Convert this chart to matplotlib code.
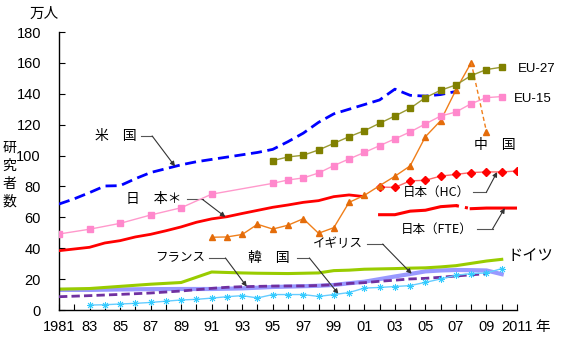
import matplotlib.pyplot as plt
import numpy as np

plt.rcParams['font.family'] = ['Noto Sans CJK JP', 'DejaVu Sans']

# ================== DATA (万人) ==================
us_years = list(range(1981, 2008))
us_vals = [68.6, 72.0, 76.0, 80.3, 80.5, 85.0, 89.0, 91.5, 94.0, 96.0, 97.5, 99.0,
           100.5, 102.0, 104.0, 109.0, 114.5, 121.5, 127.0, 130.0, 133.0, 136.0,
           143.0, 139.0, 138.5, 139.5, 141.5]

eu15_years = [1981, 1983, 1985, 1987, 1989, 1991] + list(range(1995, 2011))
eu15_vals = [49.2, 52.3, 56.1, 61.5, 66.2, 75.0, 82.0, 84.2, 85.5, 88.7, 93.5, 97.8,
             102.0, 106.4, 110.8, 115.3, 120.5, 125.6, 128.2, 133.6, 137.5, 138.2]

eu27_years = list(range(1995, 2011))
eu27_vals = [96.7, 99.1, 100.2, 103.6, 107.9, 112.2, 116.1, 120.9, 125.6, 130.6,
             137.5, 142.3, 145.7, 151.8, 155.7, 157.2]

china_years = list(range(1991, 2010))
china_vals = [47.1, 47.3, 48.9, 55.5, 52.4, 54.9, 59.1, 49.7, 53.3, 69.7, 74.2, 80.5,
              86.6, 93.3, 112.2, 122.6, 142.5, 160.2, 115.5]

jp_years = list(range(1981, 2002))
jp_vals = [38.4, 39.5, 40.6, 43.4, 44.9, 47.3, 49.0, 51.3, 53.8, 56.8, 59.0, 60.4,
           62.5, 64.5, 66.5, 68.0, 69.7, 70.8, 73.4, 74.5, 73.4]

jp_hc_years = list(range(2002, 2012))
jp_hc_vals = [79.6, 79.4, 83.6, 84.0, 86.7, 87.8, 89.0, 89.4, 89.4, 90.0]

jp_fte_years = list(range(2002, 2012))
jp_fte_vals = [61.7, 61.7, 64.0, 64.6, 66.9, 67.6, 65.6, 66.0, 66.0, 66.0]

de_years = [1981, 1983, 1985, 1987, 1989] + list(range(1991, 2011))
de_vals = [13.5, 13.9, 15.3, 16.7, 17.8, 24.6, 24.3, 24.0, 23.8, 23.7, 23.6, 23.8,
           24.0, 25.5, 25.8, 26.4, 26.6, 26.8, 27.1, 27.3, 27.9, 28.7, 30.2, 31.7, 32.8]

fr_years = [1981, 1983, 1985, 1987, 1989, 1991, 1992, 1993, 1995, 1997] + list(range(1998, 2010))
fr_vals = [8.6, 9.3, 10.1, 11.0, 12.3, 14.0, 14.7, 15.1, 15.5, 15.6, 15.9, 16.4,
           17.2, 17.7, 18.6, 19.3, 20.1, 20.5, 21.2, 22.0, 22.8, 23.5]

uk_years = [1981, 1983, 1985, 1987, 1989, 1991, 1993, 1995, 1997] + list(range(1998, 2011))
uk_vals = [13.0, 13.0, 13.3, 13.5, 13.6, 13.6, 14.0, 14.9, 15.4, 15.7, 16.2, 17.3,
           18.3, 20.0, 21.7, 23.3, 25.0, 25.6, 25.9, 25.8, 25.6, 23.2]

kr_years = list(range(1983, 2011))
kr_vals = [3.2, 3.4, 3.9, 4.3, 4.9, 5.7, 6.5, 6.9, 7.7, 8.6, 9.3, 7.8, 10.0, 10.0,
           10.0, 8.8, 10.0, 11.3, 14.2, 14.6, 15.2, 15.8, 17.9, 20.1, 22.5, 23.6, 24.0, 26.8]

tick_years = list(range(1981, 2012))
tick_labels = ["1981" if y == 1981 else "2011" if y == 2011 else
               (f"{y % 100:02d}" if y % 2 == 1 else "") for y in tick_years]

# ================== PLOT ==================
fig = plt.figure(figsize=(5.65, 3.5), dpi=100)
ax = fig.add_axes([59 / 565, 1 - 310 / 350, 458 / 565, 278 / 350])

ax.plot(uk_years, uk_vals, color="#9999FF", lw=3, zorder=2)
ax.plot(de_years, de_vals, color="#99CC00", lw=2.2, zorder=2)
ax.plot(fr_years, fr_vals, color="#7030A0", lw=2, dashes=(3, 1.5), zorder=3)
ax.plot(kr_years, kr_vals, color="#66CCFF", lw=1, marker=(8, 2, 0), ms=5,
        mec="#33CCFF", mew=0.6, zorder=4)

ax.plot(jp_years, jp_vals, color="#FF0000", lw=2, zorder=3)
# 日本(FTE): 2007→2008 は点線でつなぐ
ax.plot(jp_fte_years[:6], jp_fte_vals[:6], color="#FF0000", lw=2.2, zorder=3)
ax.plot(jp_fte_years[6:], jp_fte_vals[6:], color="#FF0000", lw=2.2, zorder=3)
ax.plot(jp_fte_years[5:7], jp_fte_vals[5:7], color="#FF0000", lw=2.2, ls=(0, (1, 2)), zorder=3)
ax.plot(jp_hc_years, jp_hc_vals, color="#FF6666", lw=1, marker="D", ms=4.5,
        mfc="#FF0000", mec="#FF0000", zorder=4)

ax.plot(china_years[:-1], china_vals[:-1], color="#F07F1A", lw=1, marker="^", ms=4.5,
        mfc="#E46C0A", mec="#E46C0A", zorder=4)
ax.plot(china_years[-2:], china_vals[-2:], color="#F07F1A", lw=1, ls=(0, (3, 2)), zorder=4)
ax.plot(china_years[-1:], china_vals[-1:], ls="none", marker="^", ms=4.5,
        color="#E46C0A", zorder=4)

ax.plot(eu15_years, eu15_vals, color="#FF99CC", lw=1, marker="s", ms=4.5,
        mfc="#FF88CC", mec="#FF88CC", zorder=4)
ax.plot(eu27_years, eu27_vals, color="#999933", lw=1, marker="s", ms=4.5,
        mfc="#808000", mec="#808000", zorder=4)
ax.plot(us_years, us_vals, color="#0000FF", lw=2, dashes=(4, 2), zorder=3)

# ================== AXES ==================
ax.set_xlim(1981, 2011)
ax.set_ylim(0, 180)
ax.set_yticks(range(0, 181, 20))
ax.set_xticks(tick_years)
ax.set_xticklabels(tick_labels)
for s in ["top", "right"]:
    ax.spines[s].set_visible(False)
for s in ["left", "bottom"]:
    ax.spines[s].set_linewidth(1)
ax.tick_params(axis="y", direction="in", length=4, pad=13, labelsize=10.5)
ax.tick_params(axis="x", direction="in", length=4, pad=7, labelsize=10.5)
for lab in ax.get_xticklabels() + ax.get_yticklabels():
    lab.set_fontfamily(["Liberation Sans", "DejaVu Sans"])

fig.text(44 / 565, 1 - 14 / 350, "万人", ha="center", va="center", fontsize=10.5)
fig.text(9 / 565, 1 - 175 / 350, "研\n究\n者\n数", ha="center", va="center",
         fontsize=10, linespacing=1.35)
fig.text(543 / 565, 1 - 327 / 350, "年", ha="center", va="center", fontsize=10.5)

# ================== LABELS ==================
gray = "#555555"


def callout(label, tx, ty, x0, x1, target_x, xs, ys, fs=10):
    ax.text(tx, ty, label, ha="right", va="center", fontsize=fs)
    ax.plot([x0, x1], [ty, ty], color=gray, lw=0.8)
    ty2 = np.interp(target_x, xs, ys)
    ax.annotate("", xy=(target_x, ty2), xytext=(x1, ty),
                arrowprops=dict(arrowstyle="-|>", color="#333333", lw=0.8,
                                mutation_scale=7, shrinkA=0, shrinkB=0))


callout("米　国", 1986.1, 112.7, 1986.35, 1987.1, 1988.6, us_years, us_vals)
callout("日　本＊", 1989.05, 71.6, 1989.4, 1990.4, 1991.9, jp_years, jp_vals)
callout("フランス", 1990.6, 33.7, 1990.8, 1991.9, 1993.3, fr_years, fr_vals, fs=9)
callout("韓　国", 1996.1, 33.7, 1996.6, 1997.4, 1999.3, kr_years, kr_vals)
callout("イギリス", 2000.9, 42.7, 2001.2, 2002.2, 2004.1, uk_years, uk_vals, fs=9)
callout("日本（HC）", 2007.9, 76.4, 2008.1, 2009.0, 2009.7, jp_hc_years, jp_hc_vals, fs=9)
callout("日本（FTE）", 2008.1, 52.5, 2008.4, 2009.4, 2010.2, jp_fte_years, jp_fte_vals, fs=9)

ax.text(2009.55, 106.9, "中　国", ha="center", va="center", fontsize=10)
ax.text(2011.05, 156.1, "EU-27", ha="left", va="center", fontsize=9.5,
        family=["Liberation Sans", "DejaVu Sans"])
ax.text(2010.8, 136.7, "EU-15", ha="left", va="center", fontsize=9.5,
        family=["Liberation Sans", "DejaVu Sans"])
ax.text(2010.4, 35.6, "ドイツ", ha="left", va="center", fontsize=11)

fig.savefig("out.png", dpi=100)
